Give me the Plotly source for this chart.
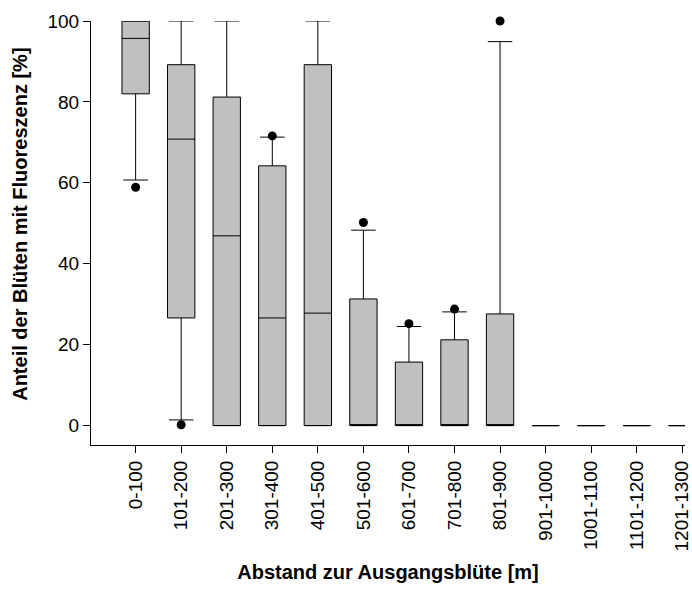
import plotly.graph_objects as go

categories = ["0-100", "101-200", "201-300", "301-400", "401-500", "501-600",
              "601-700", "701-800", "801-900", "901-1000", "1001-1100",
              "1101-1200", "1201-1300"]
q1 = [82.0, 26.6, 0, 0, 0, 0, 0, 0, 0, 0, 0, 0, 0]
median = [95.7, 70.8, 46.9, 26.6, 27.8, 0, 0, 0, 0, 0, 0, 0, 0]
q3 = [100, 89.2, 81.2, 64.2, 89.2, 31.3, 15.7, 21.2, 27.6, 0, 0, 0, 0]
lower_whisker = [60.7, 1.4, 0, 0, 0, 0, 0, 0, 0, 0, 0, 0, 0]
upper_whisker = [100, 100, 100, 71.3, 100, 48.3, 24.5, 28.1, 94.9, 0, 0, 0, 0]
outlier_cat = ["0-100", "101-200", "301-400", "501-600", "601-700", "701-800", "801-900"]
outlier_val = [58.9, 0.2, 71.6, 50.2, 25.2, 28.8, 100.0]

x_title = "Abstand zur Ausgangsblüte [m]"
y_title = "Anteil der Blüten mit Fluoreszenz [%]"

FONT = "Liberation Sans, Arial, sans-serif"

fig = go.Figure()
fig.add_trace(go.Box(
    x=categories, q1=q1, median=median, q3=q3,
    lowerfence=lower_whisker, upperfence=upper_whisker,
    fillcolor="#c0c0c0",
    line=dict(color="black", width=1),
    width=0.6, whiskerwidth=0.9,
    boxpoints=False, showlegend=False, hoverinfo="skip",
))
fig.add_trace(go.Scatter(
    x=outlier_cat, y=outlier_val, mode="markers",
    marker=dict(color="black", size=9),
    cliponaxis=False, showlegend=False, hoverinfo="skip",
))

fig.update_layout(
    width=692, height=590,
    margin=dict(l=91, r=0, t=21, b=145),
    plot_bgcolor="white", paper_bgcolor="white",
    font=dict(family=FONT, size=19, color="black"),
    xaxis=dict(
        type="category",
        range=[-0.98, 12.06],
        showline=True, linecolor="black", linewidth=1,
        ticks="outside", ticklen=7, tickcolor="black",
        tickangle=-90, showgrid=False, zeroline=False,
        tickfont=dict(family=FONT, size=19),
        title=dict(text=x_title,
                   font=dict(family=FONT, size=20, weight="bold"),
                   standoff=14),
    ),
    yaxis=dict(
        range=[-4.8, 100],
        tickvals=[0, 20, 40, 60, 80, 100],
        showline=True, linecolor="black", linewidth=1,
        ticks="outside", ticklen=7, tickcolor="black",
        showgrid=False, zeroline=False,
        tickfont=dict(family=FONT, size=19),
    ),
    annotations=[dict(
        text=y_title, textangle=-90,
        xref="paper", yref="paper",
        x=-0.12, y=0.521, xanchor="center", yanchor="middle",
        showarrow=False,
        font=dict(family=FONT, size=20, weight="bold"),
    )],
)

fig.write_html("out.html")
